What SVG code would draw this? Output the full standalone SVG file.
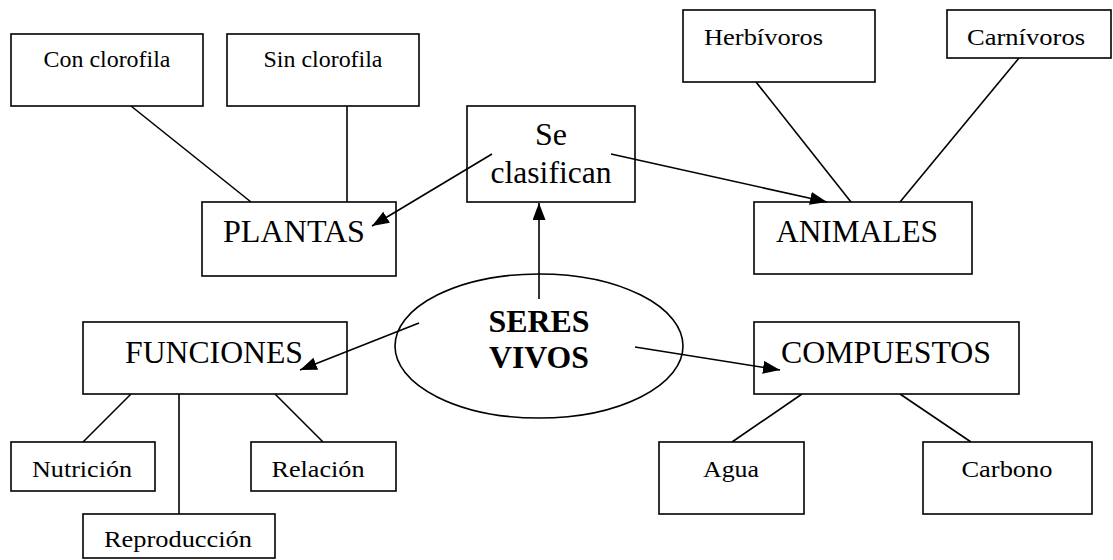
<svg xmlns="http://www.w3.org/2000/svg" width="1113" height="560" viewBox="0 0 1113 560">
<style>
.box{fill:#fff;stroke:#000;stroke-width:1.6}
.t{fill:#000;font-family:"Liberation Serif","DejaVu Serif","Times New Roman",serif}
.s{font-size:24px}
.b{font-size:31px}
.c{text-anchor:middle}
.bold{font-weight:bold}
.ln{stroke:#000;stroke-width:1.6;fill:none}
.ar{marker-end:url(#ah)}
</style>
<defs>
<marker id="ah" markerUnits="userSpaceOnUse" markerWidth="18" markerHeight="14" refX="17" refY="6.5" orient="auto">
<path d="M0,0 L17,6.5 L0,13 z" fill="#000"/>
</marker>
</defs>
<rect width="1113" height="560" fill="#fff"/>
<g id="connectors">
<line class="ln" x1="131" y1="106" x2="251" y2="202"/>
<line class="ln" x1="347" y1="106" x2="347" y2="202"/>
<line class="ln" x1="756" y1="82" x2="851" y2="202"/>
<line class="ln" x1="1019" y1="58" x2="900" y2="202"/>
<line class="ln" x1="131" y1="394" x2="83" y2="442"/>
<line class="ln" x1="179" y1="394" x2="179" y2="514"/>
<line class="ln" x1="275" y1="394" x2="323" y2="442"/>
<line class="ln" x1="802" y1="394" x2="732" y2="442"/>
<line class="ln" x1="900" y1="394" x2="971" y2="442"/>
</g>
<g id="con-clorofila"><rect class="box" x="11" y="34" width="192" height="72"/><text class="t s c" x="107" y="67" textLength="127" lengthAdjust="spacingAndGlyphs">Con clorofila</text></g>
<g id="sin-clorofila"><rect class="box" x="227" y="34" width="192" height="72"/><text class="t s c" x="323" y="67" textLength="119" lengthAdjust="spacingAndGlyphs">Sin clorofila</text></g>
<g id="plantas"><rect class="box" x="202" y="202" width="194" height="74"/><text class="t b" x="223" y="242" textLength="142" lengthAdjust="spacingAndGlyphs">PLANTAS</text></g>
<g id="se-clasifican"><rect class="box" x="467" y="106" width="168" height="96"/><text class="t b c" x="551" y="145" textLength="32" lengthAdjust="spacingAndGlyphs">Se</text><text class="t b c" x="551" y="183" textLength="121" lengthAdjust="spacingAndGlyphs">clasifican</text></g>
<g id="herbivoros"><rect class="box" x="683" y="10" width="192" height="72"/><text class="t s" x="704" y="45" textLength="119" lengthAdjust="spacingAndGlyphs">Herbívoros</text></g>
<g id="carnivoros"><rect class="box" x="947" y="10" width="164" height="48"/><text class="t s" x="967" y="45" textLength="118" lengthAdjust="spacingAndGlyphs">Carnívoros</text></g>
<g id="animales"><rect class="box" x="754" y="202" width="218" height="72"/><text class="t b c" x="857" y="242" textLength="162" lengthAdjust="spacingAndGlyphs">ANIMALES</text></g>
<g id="seres-vivos"><ellipse class="box" cx="539" cy="346" rx="144" ry="72"/><text class="t b c bold" x="539" y="332" textLength="101" lengthAdjust="spacingAndGlyphs">SERES</text><text class="t b c bold" x="539" y="368" textLength="100" lengthAdjust="spacingAndGlyphs">VIVOS</text></g>
<g id="funciones"><rect class="box" x="83" y="322" width="264" height="72"/><text class="t b c" x="214" y="363" textLength="178" lengthAdjust="spacingAndGlyphs">FUNCIONES</text></g>
<g id="nutricion"><rect class="box" x="11" y="442" width="144" height="49"/><text class="t s c" x="82" y="477" textLength="100" lengthAdjust="spacingAndGlyphs">Nutrición</text></g>
<g id="relacion"><rect class="box" x="251" y="442" width="145" height="49"/><text class="t s c" x="318" y="477" textLength="93" lengthAdjust="spacingAndGlyphs">Relación</text></g>
<g id="reproduccion"><rect class="box" x="83" y="514" width="192" height="44"/><text class="t s c" x="178" y="547" textLength="148" lengthAdjust="spacingAndGlyphs">Reproducción</text></g>
<g id="compuestos"><rect class="box" x="754" y="322" width="265" height="72"/><text class="t b c" x="886" y="363" textLength="210" lengthAdjust="spacingAndGlyphs">COMPUESTOS</text></g>
<g id="agua"><rect class="box" x="659" y="442" width="145" height="72"/><text class="t s c" x="731" y="477" textLength="56" lengthAdjust="spacingAndGlyphs">Agua</text></g>
<g id="carbono"><rect class="box" x="923" y="442" width="169" height="72"/><text class="t s c" x="1007" y="477" textLength="91" lengthAdjust="spacingAndGlyphs">Carbono</text></g>
<g id="arrows">
<line class="ln ar" x1="492" y1="154" x2="372" y2="226"/>
<line class="ln ar" x1="611" y1="154" x2="827" y2="202"/>
<line class="ln ar" x1="539" y1="299" x2="539" y2="203"/>
<line class="ln ar" x1="419" y1="323" x2="300" y2="370"/>
<line class="ln ar" x1="635" y1="347" x2="780" y2="370"/>
</g>
</svg>
